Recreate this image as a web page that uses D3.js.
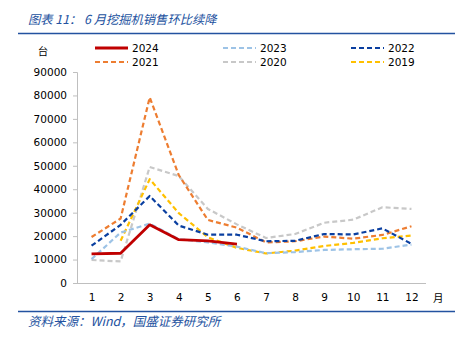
<!DOCTYPE html>
<html><head><meta charset="utf-8">
<script src="https://cdn.jsdelivr.net/npm/d3@7"></script>
<style>
html,body{margin:0;padding:0;background:#fff;}
svg{display:block;}
</style></head>
<body>
<svg id="c" width="473" height="342"></svg>
<script>
const months = [1,2,3,4,5,6,7,8,9,10,11,12];
const yTicks = [0,10000,20000,30000,40000,50000,60000,70000,80000,90000];
const s2024 = [12400,12700,24800,18500,18000,16600,null,null,null,null,null,null];
const s2023 = [10200,21500,25300,18700,17300,15500,12700,13200,14100,14400,14600,16400];
const s2022 = [15900,24800,37100,24500,20600,20600,17800,18000,20900,20700,23300,16700];
const s2021 = [19600,27500,79200,46000,26900,23600,17300,17800,19800,18900,20500,24200];
const s2020 = [9800,9200,49500,45600,31600,25000,19200,20900,25700,27000,32300,31600];
const s2019 = [null,18000,44300,29800,19500,15000,12600,13800,15800,17100,19100,20200];
const seriesNames = ["2024","2023","2022","2021","2020","2019"];
const seriesColors = ["#C00000","#9DC3E6","#0A3FA0","#ED7D31","#C8C8C8","#FFC000"];
const seriesData = [s2024,s2023,s2022,s2021,s2020,s2019];

const svg = d3.select("#c");
const blue = "#2352A0";
const font = "DejaVu Sans, Verdana, sans-serif";
const cjk = "'Noto Sans CJK SC', sans-serif";

// title
svg.append("text").attr("x",28).attr("y",24).attr("fill",blue)
  .attr("font-family",cjk).attr("font-size",12.3).attr("font-style","italic")
  .text("图表 11： 6 月挖掘机销售环比续降");
svg.append("line").attr("x1",18).attr("x2",455).attr("y1",33.5).attr("y2",33.5)
  .attr("stroke",blue).attr("stroke-width",1.6);

// source
svg.append("line").attr("x1",18).attr("x2",455).attr("y1",311.5).attr("y2",311.5)
  .attr("stroke",blue).attr("stroke-width",1.6);
svg.append("text").attr("x",28).attr("y",326).attr("fill",blue)
  .attr("font-family",cjk).attr("font-size",12.5).attr("font-style","italic")
  .text("资料来源：Wind，国盛证券研究所");

const x0 = 77, x1 = 426, yTop = 72, yBot = 283;
const x = d3.scalePoint().domain(months).range([x0,x1]).padding(0.5);
const y = d3.scaleLinear().domain([0,90000]).range([yBot,yTop]);

// y axis
const ya = svg.append("g").attr("transform",`translate(${x0},0)`)
  .call(d3.axisLeft(y).tickValues(yTicks).tickSize(4).tickPadding(6).tickFormat(d3.format("d")));
ya.select(".domain").attr("stroke","#BFBFBF");
ya.selectAll(".tick line").attr("stroke","#BFBFBF");
ya.selectAll("text").attr("font-family",font).attr("font-size",10.5).attr("fill","#000");

// x axis
const xa = svg.append("g").attr("transform",`translate(0,${yBot})`)
  .call(d3.axisBottom(x).tickSize(0).tickPadding(11).tickSizeOuter(0));
xa.select(".domain").attr("stroke","#BFBFBF").attr("d",`M${x0},0.5H${x1}`);
xa.selectAll("text").attr("font-family",font).attr("font-size",10.5).attr("fill","#000");

svg.append("text").attr("x",433).attr("y",302).attr("font-family",cjk).attr("font-size",10.5).text("月");
svg.append("text").attr("x",43).attr("y",55).attr("text-anchor","middle").attr("font-family",cjk).attr("font-size",10.5).text("台");

// lines (draw back to front)
const line = d3.line().defined(d=>d!=null).x((d,i)=>x(months[i])).y(d=>y(d));
const order = [4,3,5,1,2,0];
order.forEach(k=>{
  const p = svg.append("path").datum(seriesData[k]).attr("d",line)
    .attr("fill","none").attr("stroke",seriesColors[k])
    .attr("stroke-width", k===0?2.8:2.2).attr("stroke-linejoin","round");
  if(k!==0) p.attr("stroke-dasharray","5,3");
});

// legend
const legX = [95,223,351], legY = [48,62];
seriesNames.forEach((n,i)=>{
  const cx = legX[i%3], cy = legY[Math.floor(i/3)];
  const l = svg.append("line").attr("x1",cx).attr("x2",cx+33).attr("y1",cy).attr("y2",cy)
    .attr("stroke",seriesColors[i]).attr("stroke-width",i===0?2.8:2.2);
  if(i!==0) l.attr("stroke-dasharray","5,3");
  svg.append("text").attr("x",cx+37).attr("y",cy+4).attr("font-family",font).attr("font-size",10.5).text(n);
});
</script>
</body></html>
